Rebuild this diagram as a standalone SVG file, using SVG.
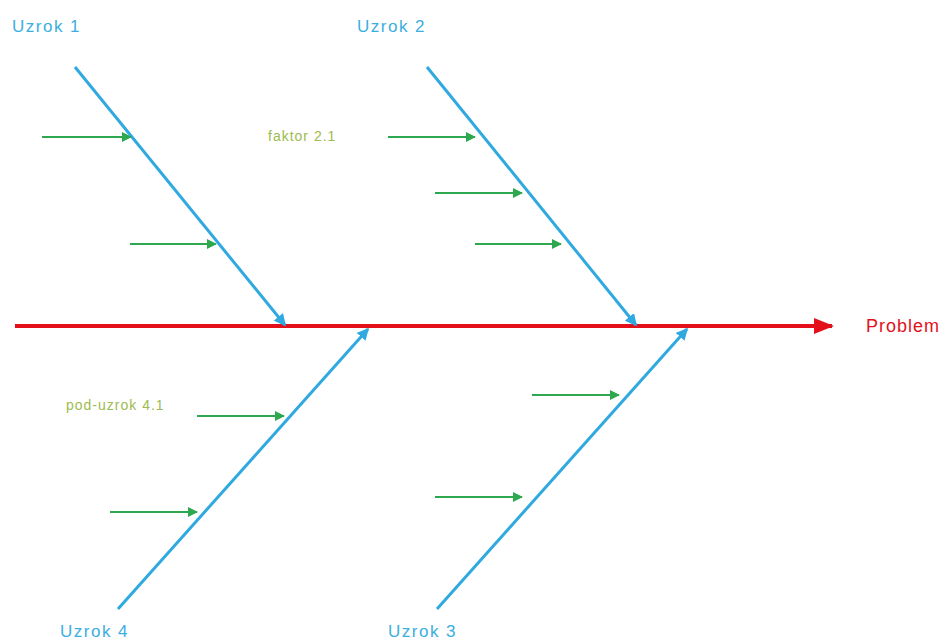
<svg xmlns="http://www.w3.org/2000/svg" width="942" height="641" viewBox="0 0 942 641">
<defs>
<marker id="ar" markerWidth="5" markerHeight="4" refX="4.5" refY="2" orient="auto" markerUnits="strokeWidth"><path d="M0,0 L5,2 L0,4 z" fill="#e3101a"/></marker>
<marker id="ab" markerWidth="4" markerHeight="4" refX="3.5" refY="2" orient="auto" markerUnits="strokeWidth"><path d="M0,0 L4,2 L0,4 z" fill="#2fa9e0"/></marker>
<marker id="ag" markerWidth="5" markerHeight="5" refX="4.5" refY="2.5" orient="auto" markerUnits="strokeWidth"><path d="M0,0 L5,2.5 L0,5 z" fill="#2ea84e"/></marker>
</defs>
<style>
.main{stroke:#e3101a;stroke-width:4;fill:none}
.bone{stroke:#2fa9e0;stroke-width:3;fill:none}
.sub{stroke:#2ea84e;stroke-width:2;fill:none}
.cause{font-family:"Liberation Sans",Arial,sans-serif;font-size:17px;fill:#3aaee0;letter-spacing:1.5px}
.small{font-family:"Liberation Sans",Arial,sans-serif;font-size:14px;fill:#9dbb50;letter-spacing:1px}
.prob{font-family:"Liberation Sans",Arial,sans-serif;font-size:18px;fill:#e3101a;letter-spacing:1px}
</style>
<rect width="942" height="641" fill="#ffffff"/>
<g id="connectors">
<line class="main" x1="15" y1="326" x2="832" y2="326" marker-end="url(#ar)"/>
<line class="bone" x1="75" y1="67" x2="285" y2="325" marker-end="url(#ab)"/>
<line class="bone" x1="427" y1="67" x2="636" y2="325" marker-end="url(#ab)"/>
<line class="bone" x1="118" y1="609" x2="368" y2="329" marker-end="url(#ab)"/>
<line class="bone" x1="437" y1="609" x2="687" y2="329" marker-end="url(#ab)"/>
<line class="sub" x1="42" y1="137" x2="131" y2="137" marker-end="url(#ag)"/>
<line class="sub" x1="130" y1="244" x2="216" y2="244" marker-end="url(#ag)"/>
<line class="sub" x1="388" y1="137" x2="475" y2="137" marker-end="url(#ag)"/>
<line class="sub" x1="435" y1="193" x2="522" y2="193" marker-end="url(#ag)"/>
<line class="sub" x1="475" y1="244" x2="561" y2="244" marker-end="url(#ag)"/>
<line class="sub" x1="532" y1="395" x2="619" y2="395" marker-end="url(#ag)"/>
<line class="sub" x1="197" y1="416" x2="284" y2="416" marker-end="url(#ag)"/>
<line class="sub" x1="435" y1="497" x2="522" y2="497" marker-end="url(#ag)"/>
<line class="sub" x1="110" y1="512" x2="197" y2="512" marker-end="url(#ag)"/>
</g>
<g id="uzrok1"><text class="cause" x="12" y="32">Uzrok 1</text></g>
<g id="uzrok2"><text class="cause" x="357" y="32">Uzrok 2</text></g>
<g id="uzrok3"><text class="cause" x="388" y="637">Uzrok 3</text></g>
<g id="uzrok4"><text class="cause" x="60" y="637">Uzrok 4</text></g>
<g id="faktor21"><text class="small" x="268" y="141">faktor 2.1</text></g>
<g id="poduzrok41"><text class="small" x="66" y="410">pod-uzrok 4.1</text></g>
<g id="problem"><text class="prob" x="866" y="332">Problem</text></g>
</svg>
